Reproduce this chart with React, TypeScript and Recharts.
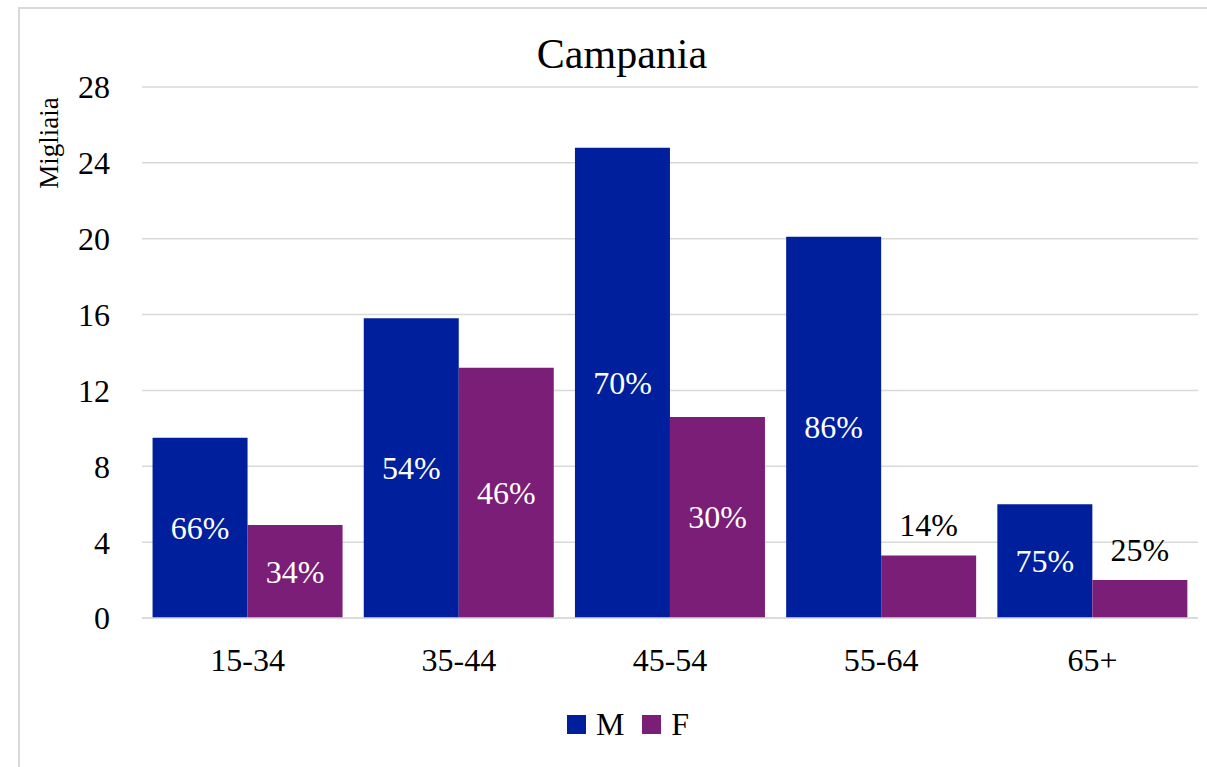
import React from 'react';
import { BarChart, Bar, XAxis, YAxis, CartesianGrid, LabelList, Legend } from 'recharts';

const categories = ['15-34', '35-44', '45-54', '55-64', '65+'];
const maleValues = [9.5, 15.8, 24.8, 20.1, 6.0];
const femaleValues = [4.9, 13.2, 10.6, 3.3, 2.0];
const malePct = ['66%', '54%', '70%', '86%', '75%'];
const femalePct = ['34%', '46%', '30%', '14%', '25%'];
const yTicks = [0, 4, 8, 12, 16, 20, 24, 28];

const data = categories.map((name, i) => ({
  name,
  M: maleValues[i],
  F: femaleValues[i],
  mPct: malePct[i],
  fPct: femalePct[i],
}));

const BLUE = '#001F9C';
const PURPLE = '#7A1E78';
const FONT = '"Liberation Serif", "Times New Roman", serif';

// Excel-style label: inside centre (white) when the bar is tall enough, else above (black)
function PctLabel(props: any) {
  const { x, y, width, height, value, index, pctKey } = props;
  const row = data[index];
  const text = row ? (row as any)[pctKey] : value;
  const cx = x + width / 2;
  const inside = height > 80;
  return (
    <text
      x={cx}
      y={inside ? y + height / 2 : y - 30}
      textAnchor="middle"
      dominantBaseline="central"
      fill={inside ? '#ffffff' : '#000000'}
      fontSize={32}
      fontFamily={FONT}
    >
      {text}
    </text>
  );
}

function LegendContent() {
  const items = [
    { label: 'M', color: BLUE },
    { label: 'F', color: PURPLE },
  ];
  return (
    <div style={{ display: 'flex', justifyContent: 'center', gap: 18, fontFamily: FONT, fontSize: 32, lineHeight: '36px' }}>
      {items.map((it) => (
        <div key={it.label} style={{ display: 'flex', alignItems: 'center' }}>
          <span style={{ display: 'inline-block', width: 19, height: 19, background: it.color, marginRight: 10 }} />
          <span>{it.label}</span>
        </div>
      ))}
    </div>
  );
}

export default function App() {
  return (
    <div style={{ position: 'absolute', left: 0, top: 0, width: 1207, height: 767, overflow: 'hidden', background: '#fff' }}>
      <div
        style={{
          position: 'absolute', left: 18, top: 7, width: 1196, height: 790,
          border: '2px solid #d9d9d9', boxSizing: 'border-box',
        }}
      />
      <div
        style={{
          position: 'absolute', left: 0, top: 30, width: 1244, textAlign: 'center',
          fontFamily: FONT, fontSize: 42, lineHeight: '48px', color: '#000',
        }}
      >
        Campania
      </div>
      <div
        style={{
          position: 'absolute', left: 49, top: 143, transform: 'translate(-50%, -50%) rotate(-90deg)',
          fontFamily: FONT, fontSize: 27, color: '#000', whiteSpace: 'nowrap',
        }}
      >
        Migliaia
      </div>
      <div style={{ position: 'absolute', left: 0, top: 0 }}>
        <BarChart
          width={1207}
          height={767}
          data={data}
          margin={{ top: 87, right: 9, bottom: 83, left: 62 }}
          barGap={0}
          barCategoryGap="5%"
        >
          <CartesianGrid vertical={false} stroke="#d9d9d9" strokeWidth={1.5} />
          <XAxis
            dataKey="name"
            axisLine={{ stroke: '#d9d9d9', strokeWidth: 1.5 }}
            tickLine={false}
            tickMargin={24}
            tick={{ fontSize: 32, fontFamily: FONT, fill: '#000' }}
          />
          <YAxis
            width={80}
            domain={[0, 28]}
            ticks={yTicks}
            axisLine={false}
            tickLine={false}
            tickMargin={26}
            tick={{ fontSize: 32, fontFamily: FONT, fill: '#000' }}
          />
          <Legend content={<LegendContent />} wrapperStyle={{ top: 706, left: 0, width: 1256, height: 36 }} />
          <Bar dataKey="M" fill={BLUE} isAnimationActive={false}>
            <LabelList dataKey="M" content={(p: any) => <PctLabel {...p} pctKey="mPct" />} />
          </Bar>
          <Bar dataKey="F" fill={PURPLE} isAnimationActive={false}>
            <LabelList dataKey="F" content={(p: any) => <PctLabel {...p} pctKey="fPct" />} />
          </Bar>
        </BarChart>
      </div>
    </div>
  );
}
